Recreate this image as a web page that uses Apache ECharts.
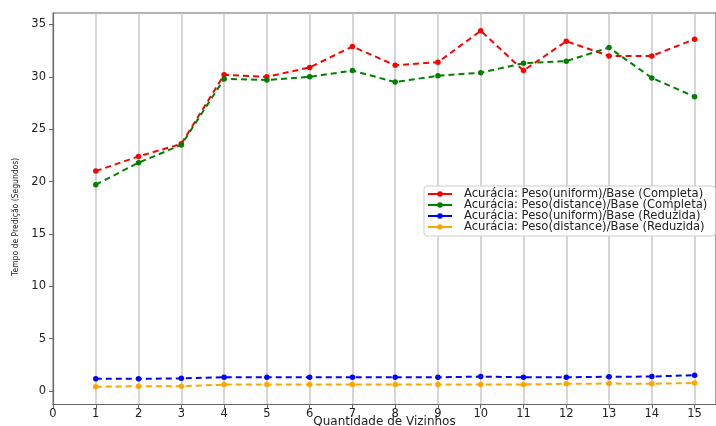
<!DOCTYPE html>
<html><head><meta charset="utf-8">
<script src="https://cdn.jsdelivr.net/npm/echarts@6/dist/echarts.min.js"></script>
<style>html,body{margin:0;padding:0;background:#fff}#c{width:716px;height:426px}</style>
</head><body><div id="c"></div>
<script>
const vizinhos = [1,2,3,4,5,6,7,8,9,10,11,12,13,14,15];
const uniformCompleta = [21.0,22.4,23.6,30.2,30.0,30.9,32.9,31.1,31.4,34.4,30.6,33.4,32.0,32.0,33.6];
const distanceCompleta = [19.7,21.8,23.5,29.8,29.7,30.0,30.6,29.5,30.1,30.4,31.3,31.5,32.8,29.9,28.1];
const uniformReduzida = [1.15,1.15,1.2,1.3,1.3,1.3,1.3,1.3,1.3,1.37,1.3,1.3,1.35,1.37,1.5];
const distanceReduzida = [0.4,0.45,0.45,0.6,0.62,0.6,0.62,0.6,0.6,0.6,0.62,0.68,0.7,0.68,0.75];
const seriesNames = [
  'Acurácia: Peso(uniform)/Base (Completa)',
  'Acurácia: Peso(distance)/Base (Completa)',
  'Acurácia: Peso(uniform)/Base (Reduzida)',
  'Acurácia: Peso(distance)/Base (Reduzida)'
];
const colors = ['#ff0000','#008000','#0000ff','#ffa500'];
const xTicks = [0,1,2,3,4,5,6,7,8,9,10,11,12,13,14,15];
const yTicks = [0,5,10,15,20,25,30,35];

const allData = [uniformCompleta, distanceCompleta, uniformReduzida, distanceReduzida];
const chart = echarts.init(document.getElementById('c'), null, {renderer:'canvas'});
const font = 'DejaVu Sans';
chart.setOption({
  animation:false,
  backgroundColor:'#fff',
  grid:{left:53, right:0, top:13, bottom:21.5, outerBoundsMode:'none', containLabel:false,
        show:true, borderColor:'#666', borderWidth:1.2, backgroundColor:'transparent'},
  legend:{
    orient:'vertical', left:424, top:186,
    padding:[2,8,3,3], itemGap:-1, itemWidth:24, itemHeight:7,
    backgroundColor:'rgba(255,255,255,0.85)', borderColor:'#ccc', borderWidth:1, borderRadius:3,
    textStyle:{fontFamily:font, fontSize:11.6, lineHeight:10.7, color:'#222', padding:[0,0,0,7]},
    lineStyle:{type:'solid', width:2},
    data:seriesNames
  },
  xAxis:{
    type:'value', min:0, max:15.5, interval:1,
    name:'Quantidade de Vizinhos', nameLocation:'middle', nameGap:12, nameMoveOverlap:false,
    nameTextStyle:{fontFamily:font, fontSize:12, lineHeight:10, color:'#222'},
    axisLine:{show:true, onZero:false, lineStyle:{color:'#666', width:1.2}},
    axisTick:{show:true, length:4, customValues:xTicks, lineStyle:{color:'#666'}},
    axisLabel:{fontFamily:font, fontSize:11.5, lineHeight:9, color:'#222', margin:5, customValues:xTicks},
    splitLine:{show:true, lineStyle:{color:'#c8c8c8', width:1.5}}
  },
  yAxis:{
    type:'value', min:-1.3, max:36.1,
    name:'Tempo de Predição (Segundos)', nameLocation:'middle', nameGap:33, nameMoveOverlap:false,
    nameTextStyle:{fontFamily:"'DejaVu Sans Condensed', 'DejaVu Sans'", fontSize:8.5, color:'#222', padding:[0,16,0,0]},
    axisLine:{show:true, lineStyle:{color:'#666', width:1.2}},
    axisTick:{show:true, length:4, customValues:yTicks, lineStyle:{color:'#666'}},
    axisLabel:{fontFamily:font, fontSize:11.5, color:'#222', margin:7, customValues:yTicks},
    splitLine:{show:false}
  },
  series: allData.map((d,i)=>({
    name:seriesNames[i], type:'line',
    data:d.map((v,j)=>[vizinhos[j], v]),
    symbol:'circle', symbolSize:5.5, showSymbol:true,
    lineStyle:{color:colors[i], width:2, type:[6,4]},
    itemStyle:{color:colors[i]},
    z:2+i
  }))
});
</script></body></html>
